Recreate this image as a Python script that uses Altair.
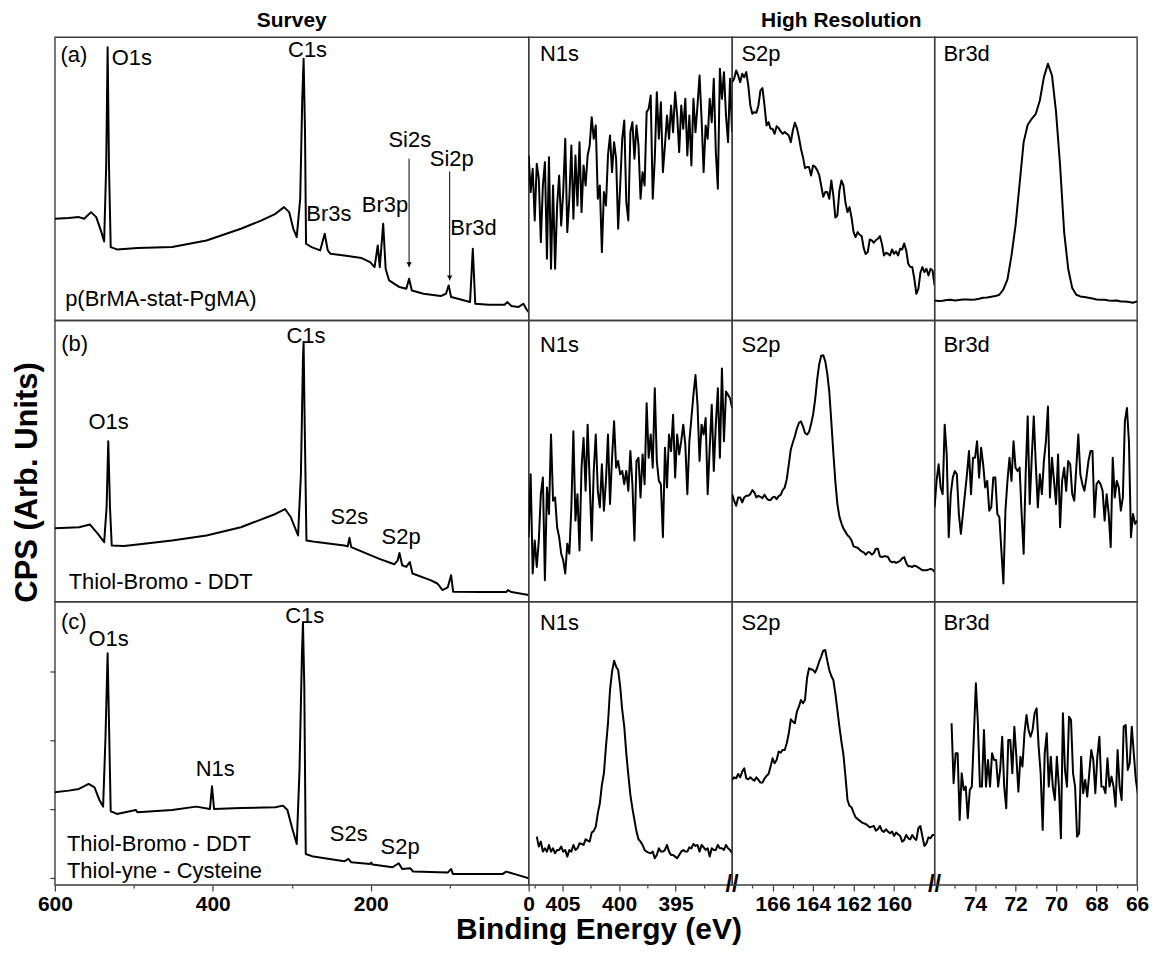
import altair as alt
import pandas as pd

FONT = "Liberation Sans"
INK = "black"
FRAME = "#3c3c3c"

# ---------------- Survey spectra: binding energy (eV) and intensity (arb. units) ----------------
survey_a_energy = [600, 582.5, 569.5, 562.9, 554.2, 547.6, 541.1, 537.6, 535, 533.2, 531.5, 529.3, 521.5,
                   495.3, 451.6, 408, 364.4, 338.2, 320.7, 309.8, 303.3, 298.0, 293.7, 289.3, 286.7, 285.0,
                   283.2, 281.9, 274.9, 264.0, 258.3, 254.4, 250.9, 233.5, 211.6, 200.7, 195.1, 191.1, 188.5,
                   184.2, 181.1, 176.7, 163.6, 154.9, 151.4, 147.9, 133.1, 111.3, 104.7, 101.2, 98.2, 89.5,
                   74.2, 70.7, 67.6, 50.2, 30.5, 27.1, 21.8, 13.1, 6.6, 3.1, 0]
survey_a_counts = [305, 307, 310, 305, 325, 310, 265, 237, 465, 820, 465, 220, 213, 217, 220, 240, 275, 300,
                   320, 340, 325, 275, 250, 365, 665, 785, 565, 230, 220, 210, 260, 210, 200, 195, 187, 175,
                   160, 225, 160, 290, 155, 120, 100, 95, 125, 90, 80, 73, 80, 105, 70, 65, 55, 215, 50, 47,
                   47, 55, 43, 40, 50, 35, 25]

survey_b_energy = [600, 569.5, 555.5, 545.5, 537.6, 534.5, 532.4, 530.2, 528, 512.7, 495.3, 451.6, 408,
                   364.4, 320.7, 308.5, 301.1, 292.0, 288.4, 285.8, 285, 283.6, 281.4, 268.4, 233.5, 229.1,
                   226.9, 224.7, 189.8, 170.2, 165.8, 163.6, 160.1, 154.9, 150.5, 147.1, 124.4, 115.6, 109.1,
                   102.5, 98.2, 95.6, 58.9, 28.4, 26.2, 21.8, 0]
survey_b_counts = [222, 225, 233, 205, 180, 285, 485, 285, 170, 168, 173, 185, 200, 225, 265, 280, 255, 200,
                   385, 735, 785, 535, 185, 180, 170, 167, 193, 165, 130, 113, 125, 147, 110, 105, 120, 85,
                   65, 55, 35, 43, 80, 30, 29, 29, 35, 29, 20]

survey_c_energy = [600, 582.5, 569.5, 557.2, 549.8, 543.3, 538.9, 535.9, 533.2, 531.1, 529.3, 521.5, 497.5,
                   495.3, 451.6, 421.1, 403.6, 401, 398.4, 364.4, 320.7, 311.1, 305.5, 299.8, 293.7, 290.2,
                   287.1, 285.8, 284.1, 282.3, 272.7, 233.5, 228.3, 224.7, 200.7, 199.4, 197.7, 172.4, 164.5,
                   160.1, 149.7, 146.2, 102.5, 98.2, 96.0, 32.7, 28.4, 15.3, 0]
survey_c_counts = [278, 283, 288, 303, 293, 253, 235, 443, 695, 443, 221, 213, 225, 218, 225, 235, 228, 296,
                   228, 231, 233, 238, 225, 173, 123, 343, 693, 788, 593, 93, 85, 71, 78, 68, 63, 67, 61, 53,
                   65, 48, 50, 40, 37, 48, 33, 33, 40, 31, 20]

# ---------------- High-resolution spectra: scan start (eV), scan step (eV), counts ----------------
n1s_a_scan = (408.0, 0.18)
n1s_a_counts = [495, 385, 455, 300, 470, 425, 235, 405, 475, 185, 490, 155, 405, 155, 345, 435, 285, 385,
                545, 265, 365, 525, 305, 495, 345, 535, 325, 465, 405, 495, 525, 610, 545, 585, 365, 405,
                205, 385, 345, 495, 555, 445, 535, 485, 275, 405, 545, 600, 355, 300, 565, 595, 485, 585,
                525, 365, 445, 405, 625, 635, 675, 365, 485, 685, 545, 655, 445, 525, 615, 545, 645, 565,
                685, 615, 505, 645, 575, 665, 495, 615, 465, 665, 565, 645, 735, 605, 445, 585, 545, 665,
                595, 725, 505, 395, 755, 665, 745, 615, 535, 725, 565]
s2p_a_scan = (168.0, 0.1)
s2p_a_counts = [715, 725, 750, 735, 715, 740, 730, 745, 705, 645, 620, 625, 623, 645, 690, 697, 645, 585,
                595, 575, 575, 560, 583, 577, 567, 560, 565, 560, 555, 535, 570, 593, 577, 550, 515, 490,
                457, 460, 460, 435, 465, 461, 451, 437, 405, 371, 385, 385, 365, 420, 375, 309, 315, 390,
                420, 405, 353, 325, 340, 309, 265, 250, 265, 257, 253, 217, 199, 205, 243, 240, 233, 241,
                245, 253, 230, 195, 203, 200, 195, 213, 200, 207, 195, 215, 213, 231, 210, 170, 160, 160,
                125, 80, 95, 143, 160, 145, 155, 135, 155, 150, 105]
br3d_a_scan = (76.0, 0.2)
br3d_a_counts = [60, 58, 59, 61, 62, 60, 61, 63, 63, 62, 63, 65, 68, 69, 71, 73, 77, 93, 123, 195, 285, 410,
                 535, 587, 605, 620, 660, 730, 770, 735, 625, 465, 265, 155, 97, 77, 72, 70, 68, 66, 63, 62,
                 62, 60, 59, 60, 57, 57, 55, 53, 57]

n1s_b_scan = (408.0, 0.18)
n1s_b_counts = [195, 385, 85, 185, 105, 185, 325, 375, 65, 345, 265, 505, 305, 315, 225, 195, 145, 125, 85,
                175, 145, 285, 515, 245, 325, 155, 405, 495, 335, 535, 365, 185, 395, 505, 335, 285, 415,
                275, 365, 505, 295, 435, 545, 405, 425, 385, 395, 355, 395, 335, 455, 355, 185, 425, 435,
                315, 445, 355, 600, 435, 505, 405, 645, 425, 365, 355, 195, 465, 345, 505, 455, 565, 375,
                505, 445, 485, 535, 475, 325, 485, 555, 625, 685, 595, 425, 535, 505, 555, 325, 465, 595,
                395, 535, 645, 435, 705, 485, 635, 625, 615, 585]
s2p_b_scan = (168.0, 0.1)
s2p_b_counts = [325, 305, 290, 315, 315, 300, 315, 320, 320, 325, 337, 330, 315, 320, 317, 313, 323, 313,
                307, 307, 315, 317, 310, 319, 323, 337, 345, 370, 415, 460, 481, 500, 523, 540, 545, 530,
                510, 505, 513, 537, 565, 610, 670, 717, 743, 745, 727, 689, 635, 545, 450, 363, 295, 257,
                237, 221, 211, 201, 195, 185, 167, 165, 163, 157, 152, 149, 142, 149, 149, 142, 147, 160,
                160, 137, 135, 137, 137, 135, 123, 119, 121, 117, 120, 123, 131, 135, 117, 107, 107, 105,
                109, 107, 103, 99, 95, 95, 95, 97, 99, 97, 90]
br3d_b_scan = (76.0, 0.1)
br3d_b_counts = [285, 365, 415, 345, 325, 535, 445, 195, 325, 375, 395, 385, 265, 205, 265, 325, 385, 455,
                 325, 435, 435, 485, 375, 465, 415, 345, 365, 275, 285, 375, 375, 265, 255, 155, 55, 275,
                 365, 435, 365, 485, 405, 395, 405, 265, 145, 385, 560, 295, 435, 560, 415, 285, 385, 325,
                 425, 485, 590, 315, 435, 365, 295, 445, 225, 365, 405, 335, 425, 415, 325, 305, 405, 505,
                 385, 355, 335, 375, 425, 455, 455, 255, 355, 365, 355, 335, 245, 325, 265, 165, 435, 315,
                 365, 345, 275, 315, 545, 585, 485, 195, 265, 235, 245]

n1s_c_scan = (407.28, 0.18)
n1s_c_counts = [145, 115, 130, 100, 110, 100, 120, 100, 110, 95, 105, 105, 115, 100, 105, 85, 105, 100, 120,
                105, 110, 125, 123, 120, 137, 133, 130, 157, 162, 175, 215, 245, 300, 335, 415, 485, 585,
                640, 673, 655, 645, 595, 525, 475, 395, 330, 270, 230, 195, 160, 137, 130, 120, 105, 100,
                97, 95, 100, 80, 90, 110, 100, 100, 105, 120, 100, 90, 90, 85, 80, 90, 100, 105, 100, 100,
                113, 110, 123, 117, 120, 100, 120, 113, 105, 110, 85, 110, 105, 105, 120, 110, 110, 105,
                120, 110, 105, 95]
s2p_c_scan = (168.0, 0.1)
s2p_c_counts = [315, 323, 320, 333, 323, 340, 350, 320, 317, 323, 317, 313, 323, 315, 307, 307, 319, 327,
                333, 355, 380, 365, 375, 400, 397, 405, 405, 425, 455, 497, 490, 485, 520, 535, 555, 545,
                555, 620, 650, 647, 645, 637, 651, 670, 685, 703, 705, 673, 645, 627, 615, 575, 525, 475,
                430, 390, 325, 255, 237, 233, 217, 203, 198, 193, 188, 185, 183, 178, 173, 175, 177, 163,
                167, 177, 163, 159, 167, 160, 155, 160, 147, 157, 152, 147, 130, 135, 150, 140, 137, 150,
                140, 135, 170, 177, 145, 117, 125, 143, 140, 150, 150]
br3d_c_scan = (75.16, 0.1)
br3d_c_counts = [485, 305, 395, 395, 195, 335, 285, 295, 200, 285, 295, 445, 605, 485, 295, 295, 465, 295,
                 375, 295, 395, 375, 375, 295, 345, 445, 295, 230, 435, 435, 335, 475, 385, 280, 385, 355,
                 455, 510, 465, 445, 465, 515, 530, 415, 335, 165, 395, 455, 295, 385, 295, 255, 385, 295,
                 140, 515, 345, 295, 505, 495, 335, 295, 145, 155, 385, 275, 315, 265, 335, 405, 375, 275,
                 385, 445, 295, 295, 275, 380, 295, 325, 295, 235, 405, 295, 255, 475, 480, 345, 365, 475,
                 395, 315, 275]

# ---------------- Annotations: (text, energy, intensity, alignment) ----------------
survey_a_labels = [("(a)", 576, 795, "center"), ("O1s", 528, 787, "left"), ("C1s", 280, 810, "center"),
                   ("Br3s", 253, 320, "center"), ("Br3p", 182, 345, "center"), ("Si2s", 150.5, 540, "center"),
                   ("Si2p", 97.3, 483, "center"), ("Br3d", 69.8, 277, "center"),
                   ("p(BrMA-stat-PgMA)", 587, 65, "left")]
survey_a_arrows = [(151.4, 485, 160), (100.0, 447, 120)]   # energy, from, to
survey_b_labels = [("(b)", 575, 780, "center"), ("C1s", 282, 803, "center"), ("O1s", 532, 542, "center"),
                   ("S2s", 227, 257, "center"), ("S2p", 161.5, 195, "center"),
                   ("Thiol-Bromo - DDT", 582.5, 60, "left")]
survey_c_labels = [("(c)", 576, 788, "center"), ("O1s", 532, 738, "center"), ("C1s", 283.6, 808, "center"),
                   ("N1s", 397, 348, "center"), ("S2s", 227.8, 153, "center"), ("S2p", 162.8, 113, "center"),
                   ("Thiol-Bromo - DDT", 584.7, 123, "left"), ("Thiol-yne - Cysteine", 584.7, 43, "left")]
hr_label_level = [800, 775, 785]

survey_domain = [600, 0]
n1s_domain = [408, 390]
s2p_domain = [168, 158]
br3d_domain = [76, 66]
survey_ticks = [600, 500, 400, 300, 200, 100, 0]
n1s_ticks = [407.5, 405, 402.5, 400, 397.5, 395, 392.5]
s2p_ticks = [167, 166, 165, 164, 163, 162, 161, 160, 159]
br3d_ticks = [75, 74, 73, 72, 71, 70, 69, 68, 67, 66]
survey_c_yticks = [21, 228, 433, 641]

W = [475, 204, 203, 203]
H = [284, 282, 284]


def survey_frame(e, c):
    return pd.DataFrame({"E": e, "I": c})


def scan_frame(scan, counts):
    start, step = scan
    return pd.DataFrame({"E": [round(start - step * i, 3) for i in range(len(counts))], "I": counts})


def bottom_axis(values, test, title=None):
    if title:
        kw = dict(title=title, titleFont=FONT, titleFontSize=30, titleFontWeight="bold", titleColor=INK,
                  titleX=545, titleY=45, titleAlign="center", titleBaseline="middle", titleAngle=0)
    else:
        kw = dict(title=None)
    return alt.Axis(values=values, labelExpr=f"({test}) ? datum.label : ''",
                    tickSize={"condition": {"test": test, "value": 6}, "value": 3},
                    tickColor=FRAME, tickWidth=1.2, domain=False, grid=False,
                    labelFont=FONT, labelFontSize=21, labelFontWeight="bold", labelColor=INK,
                    labelPadding=3, labelFlush=False, labelOverlap=False, **kw)


def panel(df, domain, width, height, labels, x_axis=None, y_axis=None, arrows=None, breaks=None, title=None):
    x = alt.X("E:Q", scale=alt.Scale(domain=domain, nice=False, zero=False), axis=x_axis)
    y = alt.Y("I:Q", scale=alt.Scale(domain=[0, 850], nice=False, zero=False), axis=y_axis)
    layers = [alt.Chart(df).mark_line(color=INK, strokeWidth=2, clip=True, strokeJoin="round").encode(x=x, y=y)]
    lab = pd.DataFrame(labels, columns=["text", "E", "I", "align"])
    for al in ["left", "center"]:
        sub = lab[lab["align"] == al]
        if len(sub):
            layers.append(alt.Chart(sub).mark_text(align=al, baseline="middle", font=FONT, fontSize=22,
                                                   color=INK).encode(x=x, y=y, text="text:N"))
    if arrows:
        ar = pd.DataFrame(arrows, columns=["E", "I", "I2"])
        layers.append(alt.Chart(ar).mark_rule(color=INK, strokeWidth=1).encode(x=x, y=y, y2=alt.Y2("I2:Q")))
        heads = pd.DataFrame({"E": ar["E"], "I": ar["I2"] + 8})
        layers.append(alt.Chart(heads).mark_point(shape="triangle-down", filled=True, size=28, color=INK,
                                                  opacity=1).encode(x=x, y=y))
    if breaks is not None:
        br = pd.DataFrame({"E": [breaks], "I": [0], "text": ["//"]})
        layers.append(alt.Chart(br).mark_text(align="center", baseline="middle", font=FONT, fontSize=24,
                                               fontWeight="bold", color=INK).encode(x=x, y=y, text="text:N"))
    ch = alt.layer(*layers).properties(width=width, height=height)
    if title is not None:
        ch = ch.properties(title=title)
    return ch


def title_params(text, dx=0):
    return alt.TitleParams(text, font=FONT, fontSize=21, fontWeight="bold", color=INK, anchor="middle",
                           offset=6, dx=dx)


y_title_axis = alt.Axis(title="CPS (Arb. Units)", labels=False, ticks=False, domain=False, grid=False,
                        titleFont=FONT, titleFontSize=31, titleFontWeight="bold", titleColor=INK,
                        titleAngle=270, titleX=-27, titleY=162, titleAlign="center", titleBaseline="middle")
y_tick_axis = alt.Axis(values=survey_c_yticks, labels=False, ticks=True, tickSize=5, tickColor=FRAME,
                       tickWidth=1.2, domain=False, grid=False, title=None)

cells = [
    panel(survey_frame(survey_a_energy, survey_a_counts), survey_domain, W[0], H[0], survey_a_labels,
          arrows=survey_a_arrows, title=title_params("Survey")),
    panel(scan_frame(n1s_a_scan, n1s_a_counts), n1s_domain, W[1], H[0], [("N1s", 407.0, hr_label_level[0], "left")]),
    panel(scan_frame(s2p_a_scan, s2p_a_counts), s2p_domain, W[2], H[0], [("S2p", 167.54, hr_label_level[0], "left")],
          title=title_params("High Resolution", dx=8)),
    panel(scan_frame(br3d_a_scan, br3d_a_counts), br3d_domain, W[3], H[0], [("Br3d", 75.56, hr_label_level[0], "left")]),

    panel(survey_frame(survey_b_energy, survey_b_counts), survey_domain, W[0], H[1], survey_b_labels,
          y_axis=y_title_axis),
    panel(scan_frame(n1s_b_scan, n1s_b_counts), n1s_domain, W[1], H[1], [("N1s", 407.0, hr_label_level[1], "left")]),
    panel(scan_frame(s2p_b_scan, s2p_b_counts), s2p_domain, W[2], H[1], [("S2p", 167.54, hr_label_level[1], "left")]),
    panel(scan_frame(br3d_b_scan, br3d_b_counts), br3d_domain, W[3], H[1], [("Br3d", 75.56, hr_label_level[1], "left")]),

    panel(survey_frame(survey_c_energy, survey_c_counts), survey_domain, W[0], H[2], survey_c_labels,
          x_axis=bottom_axis(survey_ticks, "datum.value % 200 === 0", title="Binding Energy (eV)"),
          y_axis=y_tick_axis),
    panel(scan_frame(n1s_c_scan, n1s_c_counts), n1s_domain, W[1], H[2], [("N1s", 407.0, hr_label_level[2], "left")],
          x_axis=bottom_axis(n1s_ticks, "datum.value % 5 === 0"), breaks=390),
    panel(scan_frame(s2p_c_scan, s2p_c_counts), s2p_domain, W[2], H[2], [("S2p", 167.54, hr_label_level[2], "left")],
          x_axis=bottom_axis(s2p_ticks, "datum.value % 2 === 0"), breaks=158),
    panel(scan_frame(br3d_c_scan, br3d_c_counts), br3d_domain, W[3], H[2], [("Br3d", 75.56, hr_label_level[2], "left")],
          x_axis=bottom_axis(br3d_ticks, "datum.value % 2 === 0")),
]

chart = alt.concat(*cells, columns=4, spacing=0, bounds="flush", align="each").properties(
    padding={"left": 3, "top": 0, "right": 0, "bottom": 0},
    background="white",
).configure_view(stroke=FRAME, strokeWidth=1.4)

chart.save("out.html", embed_options={"renderer": "svg", "actions": False})
